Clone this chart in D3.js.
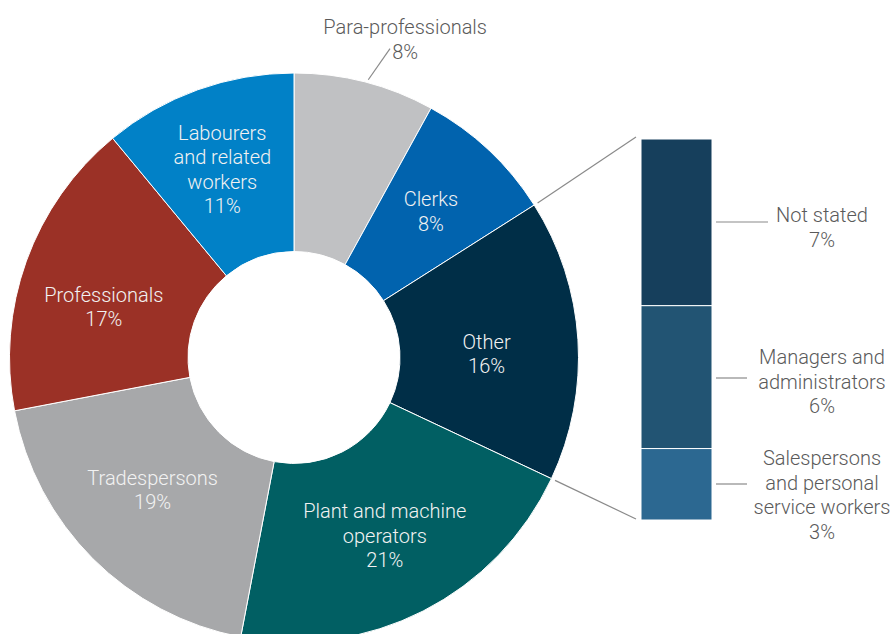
<!DOCTYPE html>
<html><head><meta charset="utf-8">
<script src="https://cdn.jsdelivr.net/npm/d3@7"></script>
<style>
html,body{margin:0;padding:0;background:#fff;}
svg{display:block;font-family:Roboto,"Noto Sans",sans-serif;font-weight:300;}
</style></head>
<body>
<svg id="chart" width="892" height="634"></svg>
<script>
// Main donut
const categories = ["Para-professionals","Clerks","Other","Plant and machine operators","Tradespersons","Professionals","Labourers and related workers"];
const values = [8, 8, 16, 21, 19, 17, 11];
const colors = ["#c0c1c3","#0163ae","#002e47","#015f63","#a7a8aa","#9b3126","#0181c7"];
const labelLines = [["Para-professionals","8%"],["Clerks","8%"],["Other","16%"],["Plant and machine","operators","21%"],["Tradespersons","19%"],["Professionals","17%"],["Labourers","and related","workers","11%"]];

// Breakdown of "Other"
const subCategories = ["Not stated","Managers and administrators","Salespersons and personal service workers"];
const subValues = [7, 6, 3];
const subColors = ["#163f5c","#225473","#2c6891"];
const subLabelLines = [["Not stated","7%"],["Managers and","administrators","6%"],["Salespersons","and personal","service workers","3%"]];

const svg = d3.select("#chart");
const cx = 294, cy = 357.5, R = 284.5, r0 = 106;
const g = svg.append("g").attr("transform", `translate(${cx},${cy})`);

const pie = d3.pie().sort(null).value(d => d)(values);
const arc = d3.arc().innerRadius(r0).outerRadius(R);
g.selectAll("path.slice").data(pie).join("path")
  .attr("class","slice")
  .attr("d", arc)
  .attr("fill", (d,i) => colors[i])
  .attr("stroke", "#fff").attr("stroke-width", 1);

const lh = 24.5, fs = 20;
const labelArc = d3.arc().innerRadius(200).outerRadius(200);
const nudges = {2:[-7,9],4:[0,-9],5:[-2,17],6:[-4,0]};
pie.forEach((d,i) => {
  if (i === 0) return;
  const [x,y] = labelArc.centroid(d);
  const [dx,dy] = nudges[i] || [0,0];
  const lines = labelLines[i];
  const t = g.append("text").attr("text-anchor","middle").attr("fill","#f2f2f2")
    .attr("font-size", fs);
  lines.forEach((L,k) => {
    t.append("tspan").attr("x", x+dx)
      .attr("y", y+dy + (k - (lines.length-1)/2)*lh)
      .attr("dy","0.35em").text(L);
  });
});

// Para-professionals outside label
{
  const d = pie[0];
  const a = (d.startAngle + d.endAngle)/2 + 0.01;
  const p1 = [Math.sin(a)*(R+3), -Math.cos(a)*(R+3)];
  const p2 = [Math.sin(a+0.04)*(R+39), -Math.cos(a+0.04)*(R+39)];
  const pt = [Math.sin(a+0.04)*(R+43), -Math.cos(a+0.04)*(R+43)];
  g.append("line").attr("x1",p1[0]).attr("y1",p1[1]).attr("x2",p2[0]).attr("y2",p2[1])
    .attr("stroke","#8a8a8a").attr("stroke-width",1.2);
  const t = g.append("text").attr("text-anchor","middle").attr("fill","#5a5a5a").attr("font-size",fs);
  labelLines[0].forEach((L,k) => {
    t.append("tspan").attr("x", pt[0]+14).attr("y", pt[1]-17.5 + k*lh).attr("dy","0.35em").text(L);
  });
}

// Stacked bar
const barX = 641, barW = 71;
const y = d3.scaleLinear().domain([0, d3.sum(subValues)]).range([139, 520]);
let acc = 0;
const stack = subValues.map(v => { const s = {y0: acc, y1: acc+v}; acc += v; return s; });
svg.selectAll("rect.sub").data(stack).join("rect")
  .attr("class","sub")
  .attr("x", barX).attr("width", barW)
  .attr("y", d => y(d.y0)).attr("height", d => y(d.y1)-y(d.y0))
  .attr("fill", (d,i) => subColors[i])
  .attr("stroke","#fff").attr("stroke-width",1);

// Connector lines from "Other" slice to bar
const other = pie[2];
const pa = [cx + Math.sin(other.startAngle)*(R+4), cy - Math.cos(other.startAngle)*(R+4)];
const pb = [cx + Math.sin(other.endAngle)*(R+4), cy - Math.cos(other.endAngle)*(R+4)];
svg.append("line").attr("x1",pa[0]).attr("y1",pa[1]).attr("x2",barX-5).attr("y2",y(0)-2)
  .attr("stroke","#8a8a8a").attr("stroke-width",1.2);
svg.append("line").attr("x1",pb[0]).attr("y1",pb[1]).attr("x2",barX-5).attr("y2",y(acc)-1)
  .attr("stroke","#8a8a8a").attr("stroke-width",1.2);

// Sub labels
const lineEnds = [768, 747, 747];
const labelYs = [222, 378, 484];
const labelCx = 822;
stack.forEach((s,i) => {
  const ly = labelYs[i];
  svg.append("line").attr("x1", barX+barW+4).attr("x2", lineEnds[i])
    .attr("y1", ly).attr("y2", ly).attr("stroke","#8a8a8a").attr("stroke-width",1.2);
});
const firstLineY = [215, 357, 458];
subLabelLines.forEach((lines,i) => {
  const t = svg.append("text").attr("text-anchor","middle").attr("fill","#5a5a5a").attr("font-size",fs);
  lines.forEach((L,k) => {
    t.append("tspan").attr("x", labelCx).attr("y", firstLineY[i] + k*lh).attr("dy","0.35em").text(L);
  });
});
</script>
</body></html>
